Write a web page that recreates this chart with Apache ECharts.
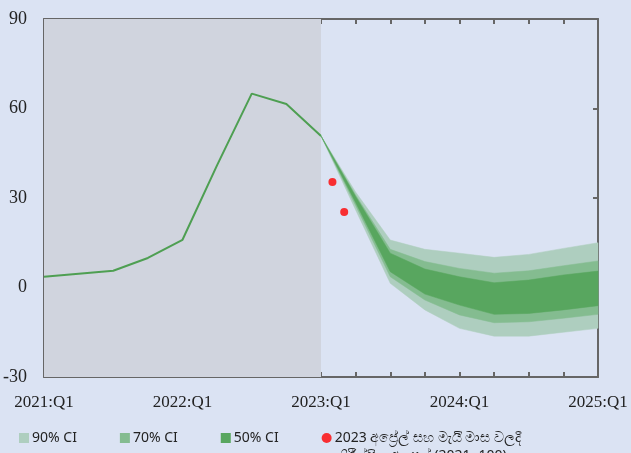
<!DOCTYPE html>
<html>
<head>
<meta charset="utf-8">
<script src="https://cdn.jsdelivr.net/npm/echarts@6/dist/echarts.min.js"></script>
<style>
  html, body { margin: 0; padding: 0; background: #dbe3f3; }
  #main { width: 631px; height: 453px; }
</style>
</head>
<body>
<div id="main"></div>
<script>
// quarters, 0 = 2021:Q1 ... 16 = 2025:Q1
var tickLabels = {0: '2021:Q1', 4: '2022:Q1', 8: '2023:Q1', 12: '2024:Q1', 16: '2025:Q1'};

// actual index up to 2023:Q1
var histX = [0, 1, 2, 3, 4, 5, 6, 7, 8];
var histY = [3.6, 4.6, 5.6, 9.9, 16, 41, 65, 61.5, 50.8];

// projection bands 2023:Q1 .. 2025:Q1
var fanX = [8, 9, 10, 11, 12, 13, 14, 15, 16];
var ci90Top = [50.8, 32, 15.9, 12.8, 11.5, 10.1, 11.1, 13.1, 15.0];
var ci70Top = [50.8, 31, 12.8, 8.7, 6.4, 4.8, 5.6, 7.3, 8.9];
var ci50Top = [50.8, 30.5, 11.5, 6.2, 3.6, 1.6, 2.5, 4.2, 5.5];
var ci50Bot = [50.8, 28.5, 5.3, -2.2, -5.9, -9.0, -8.7, -7.5, -6.1];
var ci70Bot = [50.8, 27.5, 3.6, -4.2, -9.2, -11.8, -11.5, -10.3, -9.0];
var ci90Bot = [50.8, 26, 1.4, -7.5, -13.7, -16.3, -16.3, -15.0, -13.7];

// observed April / May 2023
var obsX = [8.33, 8.67];
var obsY = [35.4, 25.3];

var legendName = '2023 අප්‍රේල් සහ මැයි මාස වලදී';
var legendLine2 = 'නිරීක්ෂිත අගයන් (2021=100)';

var c90 = '#aecebf', c70 = '#84bc90', c50 = '#58a65f';

function pairs(xs, ys) {
    return xs.map(function (x, i) { return [x, ys[i]]; });
}

// band between lower and upper arrays, drawn as one polygon
function band(name, lower, upper, color) {
    var rows = fanX.map(function (x, i) { return [x, lower[i], upper[i]]; });
    return {
        name: name,
        type: 'custom',
        data: rows,
        itemStyle: { color: color },
        silent: true,
        z: 2,
        renderItem: function (params, api) {
            if (params.dataIndex !== 0) return;
            var pts = [];
            rows.forEach(function (r) { pts.push(api.coord([r[0], r[2]])); });
            for (var i = rows.length - 1; i >= 0; i--) pts.push(api.coord([rows[i][0], rows[i][1]]));
            return {
                type: 'polygon',
                shape: { points: pts },
                style: { fill: color, stroke: color, lineWidth: 0.5 }
            };
        }
    };
}

var axisLine = { show: true, onZero: false, lineStyle: { color: '#666', width: 2 } };
var axisTick = { show: true, inside: true, length: 5, lineStyle: { color: '#666', width: 2 } };

var myChart = echarts.init(document.getElementById('main'));

var option = {
    backgroundColor: '#dbe3f3',
    animation: false,
    grid: { left: 44, right: 33, top: 19, bottom: 76 },
    legend: {
        left: 14,
        top: 426,
        itemGap: 43,
        itemWidth: 10,
        itemHeight: 10,
        textStyle: { fontFamily: 'Noto Sans', fontSize: 14, color: '#222', padding: [0, 0, 0, -2] },
        data: [
            { name: '90% CI', icon: 'rect', itemStyle: { color: c90 } },
            { name: '70% CI', icon: 'rect', itemStyle: { color: c70 } },
            { name: '50% CI', icon: 'rect', itemStyle: { color: c50 } },
            { name: legendName, icon: 'circle', itemStyle: { color: '#ff0000' } }
        ]
    },
    graphic: [{
        type: 'text',
        left: 337,
        top: 449,
        style: { text: legendLine2, font: '14px "Noto Sans"', fill: '#222' }
    }],
    xAxis: [{
        type: 'value',
        min: 0,
        max: 16,
        interval: 1,
        axisLine: axisLine,
        axisTick: axisTick,
        splitLine: { show: false },
        axisLabel: {
            margin: 17,
            fontFamily: 'Liberation Serif',
            fontSize: 17,
            color: '#222',
            showMinLabel: true,
            showMaxLabel: true,
            formatter: function (v) { return tickLabels[v] || ''; }
        }
    }, {
        type: 'value',
        position: 'top',
        min: 0,
        max: 16,
        interval: 1,
        axisLine: axisLine,
        axisTick: axisTick,
        axisLabel: { show: false },
        splitLine: { show: false }
    }],
    yAxis: [{
        type: 'value',
        min: -30,
        max: 90,
        interval: 30,
        axisLine: axisLine,
        axisTick: axisTick,
        splitLine: { show: false },
        axisLabel: {
            margin: 17,
            fontFamily: 'Liberation Serif',
            fontSize: 18,
            color: '#222'
        }
    }, {
        type: 'value',
        position: 'right',
        min: -30,
        max: 90,
        interval: 30,
        axisLine: axisLine,
        axisTick: axisTick,
        axisLabel: { show: false },
        splitLine: { show: false }
    }],
    series: [
        band('90% CI', ci90Bot, ci90Top, c90),
        band('70% CI', ci70Bot, ci70Top, c70),
        band('50% CI', ci50Bot, ci50Top, c50),
        {
            name: 'index',
            type: 'line',
            data: pairs(histX, histY),
            symbol: 'none',
            lineStyle: { color: '#4e9f52', width: 2 },
            z: 3,
            markArea: {
                silent: true,
                itemStyle: { color: '#d0d4de' },
                data: [[{ xAxis: 0 }, { xAxis: 8 }]]
            }
        },
        {
            name: legendName,
            type: 'scatter',
            data: pairs(obsX, obsY),
            symbolSize: 8,
            itemStyle: { color: '#ff0000' },
            z: 4
        }
    ]
};

myChart.setOption(option);
</script>
</body>
</html>
